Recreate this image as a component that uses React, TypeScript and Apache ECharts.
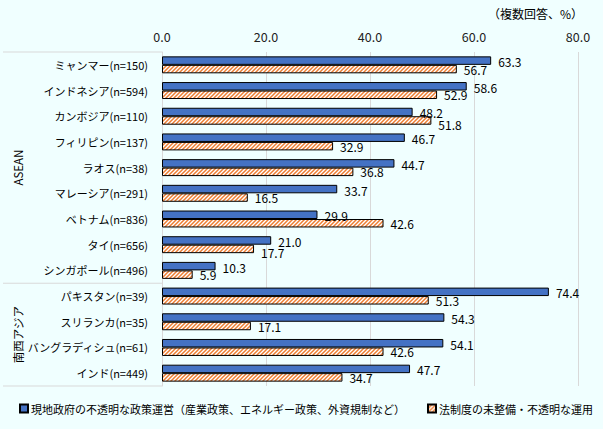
import React, { useEffect, useRef } from "react";
import * as echarts from "echarts";

const categories = [
  "ミャンマー(n=150)",
  "インドネシア(n=594)",
  "カンボジア(n=110)",
  "フィリピン(n=137)",
  "ラオス(n=38)",
  "マレーシア(n=291)",
  "ベトナム(n=836)",
  "タイ(n=656)",
  "シンガポール(n=496)",
  "パキスタン(n=39)",
  "スリランカ(n=35)",
  "バングラディシュ(n=61)",
  "インド(n=449)",
];
const seriesNames = [
  "現地政府の不透明な政策運営（産業政策、エネルギー政策、外資規制など）",
  "法制度の未整備・不透明な運用",
];
const policyValues = [63.3, 58.6, 48.2, 46.7, 44.7, 33.7, 29.9, 21.0, 10.3, 74.4, 54.3, 54.1, 47.7];
const legalValues = [56.7, 52.9, 51.8, 32.9, 36.8, 16.5, 42.6, 17.7, 5.9, 51.3, 17.1, 42.6, 34.7];
const groups = [
  { name: "ASEAN", count: 9 },
  { name: "南西アジア", count: 4 },
];
const xTicks = { min: 0, max: 80, interval: 20 };
const unitNote = "（複数回答、%）";

const FONT = '"Noto Sans CJK JP", "Noto Sans", sans-serif';
const W = 603;
const H = 429;
const GRID = { left: 162, right: 25, top: 52, bottom: 43 };
const LABEL_DIST = 7;

function makeHatch(): HTMLCanvasElement {
  const s = 4;
  const c = document.createElement("canvas");
  c.width = s;
  c.height = s;
  const ctx = c.getContext("2d")!;
  ctx.fillStyle = "#ffffff";
  ctx.fillRect(0, 0, s, s);
  ctx.strokeStyle = "#ED7D31";
  ctx.lineWidth = 1.5;
  ctx.beginPath();
  ctx.moveTo(-1, 1);
  ctx.lineTo(1, -1);
  ctx.moveTo(0, s);
  ctx.lineTo(s, 0);
  ctx.moveTo(s - 1, s + 1);
  ctx.lineTo(s + 1, s - 1);
  ctx.stroke();
  return c;
}

export default function App() {
  const ref = useRef<HTMLDivElement>(null);
  useEffect(() => {
    document.body.style.margin = "0";
    if (!ref.current) return;
    const chart = echarts.init(ref.current, null, { renderer: "svg", width: W, height: H });
    const hatch = { image: makeHatch(), repeat: "repeat" } as any;

    const plotH = H - GRID.top - GRID.bottom;
    const band = plotH / categories.length;
    const graphics: any[] = [];
    let start = 0;
    graphics.push({
      type: "line",
      shape: { x1: 3, y1: GRID.top, x2: GRID.left, y2: GRID.top },
      style: { stroke: "#d9d9d9", lineWidth: 1 },
    });
    groups.forEach((g) => {
      const yEnd = GRID.top + (start + g.count) * band;
      const yMid = GRID.top + (start + g.count / 2) * band;
      graphics.push({
        type: "line",
        shape: { x1: 3, y1: yEnd, x2: GRID.left, y2: yEnd },
        style: { stroke: "#d9d9d9", lineWidth: 1 },
      });
      graphics.push({
        type: "text",
        x: 18,
        y: yMid,
        rotation: Math.PI / 2,
        style: {
          text: g.name,
          fill: "#000",
          font: `11.5px ${FONT}`,
          textAlign: "center",
          textVerticalAlign: "middle",
        },
      });
      start += g.count;
    });
    graphics.push({
      type: "text",
      right: 20,
      top: 7,
      style: { text: unitNote, fill: "#000", font: `12px ${FONT}` },
    });

    const labelStyle = {
      show: true,
      position: "right",
      distance: LABEL_DIST,
      color: "#000",
      fontSize: 12,
      lineHeight: 11,
      fontFamily: FONT,
      formatter: (p: any) => Number(p.value).toFixed(1),
    };

    // push an orange label down when the blue label of the same row overlaps it horizontally
    const orangeLayout = (params: any) => {
      const i = params.dataIndex;
      const lr = params.labelRect;
      const blueEnd = chart.convertToPixel({ gridIndex: 0 }, [policyValues[i], 0])[0];
      const blueStart = blueEnd + LABEL_DIST;
      const blueStop = blueStart + lr.width;
      const overlap = blueStart < lr.x + lr.width + 1 && blueStop > lr.x - 1;
      return overlap ? { dy: 4 } : {};
    };

    chart.setOption({
      animation: false,
      backgroundColor: "#f0ffff",
      textStyle: { fontFamily: FONT },
      grid: { ...GRID, containLabel: false },
      legend: {
        bottom: 10,
        left: 14,
        itemWidth: 8,
        itemHeight: 8,
        itemGap: 22,
        icon: "rect",
        textStyle: { fontSize: 11, color: "#000", fontFamily: FONT, padding: [0, 0, 0, -2] },
        data: seriesNames,
      },
      xAxis: {
        type: "value",
        position: "top",
        min: xTicks.min,
        max: xTicks.max,
        interval: xTicks.interval,
        axisLine: { show: false },
        axisTick: { show: false },
        axisLabel: {
          color: "#222",
          fontSize: 12.5,
          margin: 9,
          formatter: (v: number) => v.toFixed(1),
        },
        splitLine: { lineStyle: { color: "#d9d9d9" } },
      },
      yAxis: {
        type: "category",
        inverse: true,
        data: categories,
        axisLine: { show: true, lineStyle: { color: "#d9d9d9" } },
        axisTick: { show: false },
        axisLabel: { color: "#000", fontSize: 11, margin: 14, fontFamily: FONT },
      },
      series: [
        {
          name: seriesNames[0],
          type: "bar",
          data: policyValues,
          barCategoryGap: "34%",
          barGap: "0%",
          itemStyle: { color: "#4472C4", borderColor: "#000", borderWidth: 1 },
          label: { ...labelStyle, offset: [0, 1] },
        },
        {
          name: seriesNames[1],
          type: "bar",
          data: legalValues,
          barCategoryGap: "34%",
          barGap: "0%",
          itemStyle: { color: hatch, borderColor: "#000", borderWidth: 1 },
          label: { ...labelStyle, offset: [0, 2] },
          labelLayout: orangeLayout,
        },
      ],
      graphic: graphics,
    });
    return () => chart.dispose();
  }, []);
  return <div ref={ref} style={{ position: "absolute", left: 0, top: 0, width: W, height: H }} />;
}
